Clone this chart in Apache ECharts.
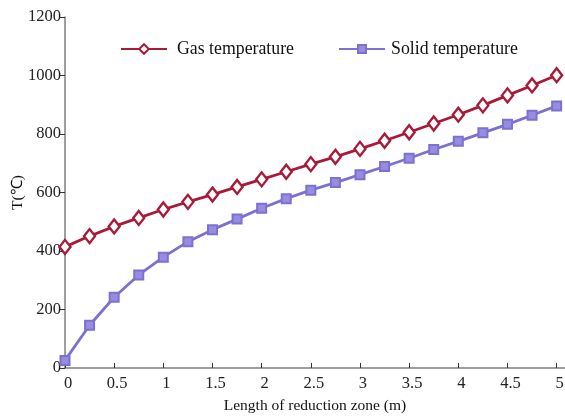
<!DOCTYPE html>
<html>
<head>
<meta charset="utf-8">
<script src="https://cdn.jsdelivr.net/npm/echarts@6/dist/echarts.min.js"></script>
<style>
  html, body { margin: 0; padding: 0; background: #fff; }
  #chart { width: 565px; height: 416px; }
</style>
</head>
<body>
<div id="chart"></div>
<script>
// Position along the reduction zone (m)
const lengths = [0, 0.25, 0.5, 0.75, 1, 1.25, 1.5, 1.75, 2, 2.25, 2.5,
                 2.75, 3, 3.25, 3.5, 3.75, 4, 4.25, 4.5, 4.75, 5];
// Gas temperature (°C)
const gasTemp = [414, 451, 484, 513, 542, 568, 593, 619, 645, 671, 697,
                 722, 749, 777, 806, 836, 866, 898, 932, 966, 1001];
// Solid temperature (°C)
const solidTemp = [26, 146, 242, 318, 379, 432, 473, 509, 546, 579, 608,
                   634, 661, 689, 717, 747, 775, 804, 833, 864, 896];
// Tick positions
const xTicks = [0, 0.5, 1, 1.5, 2, 2.5, 3, 3.5, 4, 4.5, 5];

const FONT = '"Liberation Serif", "Times New Roman", serif';
const GAS_COLOR = '#a81a3a';
const SOLID_COLOR = '#7d70d1';
const AXIS_COLOR = '#7f7f7f';

const legendText = pad => ({ fontFamily: FONT, fontSize: 17.8, color: '#111', padding: [0, 0, 0, pad] });

const chart = echarts.init(document.getElementById('chart'), null, { renderer: 'canvas' });

chart.setOption({
  animation: false,
  textStyle: { fontFamily: FONT },
  grid: { left: 65, right: 0, top: 17, bottom: 48, containLabel: false, outerBoundsMode: 'none' },
  legend: [
    {
      left: 115, top: 35, itemWidth: 46, itemHeight: 12,
      textStyle: legendText(5),
      data: ['Gas temperature']
    },
    {
      left: 333, top: 35, itemWidth: 46, itemHeight: 10,
      textStyle: legendText(1),
      data: ['Solid temperature']
    }
  ],
  xAxis: {
    type: 'value',
    min: 0,
    max: 5.085,
    name: 'Length of reduction zone (m)',
    nameLocation: 'middle',
    nameGap: 30,
    nameMoveOverlap: false,
    nameTextStyle: { fontFamily: FONT, fontSize: 15.5, color: '#111' },
    axisLine: { show: true, lineStyle: { color: AXIS_COLOR, width: 1.5 } },
    axisTick: { show: true, inside: true, length: 5, customValues: xTicks,
                lineStyle: { color: '#333', width: 1 } },
    axisLabel: { customValues: xTicks, fontFamily: FONT, fontSize: 16.5, color: '#222', margin: 7,
                 padding: [0, 0, 0, 6], formatter: v => String(v) },
    splitLine: { show: false }
  },
  yAxis: {
    type: 'value',
    min: 0,
    max: 1200,
    interval: 200,
    name: 'T(℃)',
    nameLocation: 'middle',
    nameRotate: 90,
    nameGap: 39,
    nameMoveOverlap: false,
    nameTextStyle: { fontFamily: FONT, fontSize: 15.5, color: '#111' },
    axisLine: { show: true, lineStyle: { color: AXIS_COLOR, width: 1.5 } },
    axisTick: { show: true, inside: false, length: 5, lineStyle: { color: '#333', width: 1 } },
    axisLabel: { fontFamily: FONT, fontSize: 16.5, color: '#222', margin: 4,
                 formatter: v => String(v) },
    splitLine: { show: false }
  },
  series: [
    {
      name: 'Gas temperature',
      type: 'line',
      data: lengths.map((x, i) => [x, gasTemp[i]]),
      symbol: 'diamond',
      symbolSize: [11, 14],
      showAllSymbol: true,
      lineStyle: { color: GAS_COLOR, width: 2.8 },
      itemStyle: { color: '#fff', borderColor: GAS_COLOR, borderWidth: 2.4 },
      z: 3
    },
    {
      name: 'Solid temperature',
      type: 'line',
      data: lengths.map((x, i) => [x, solidTemp[i]]),
      symbol: 'rect',
      symbolSize: 9,
      showAllSymbol: true,
      lineStyle: { color: SOLID_COLOR, width: 2.8 },
      itemStyle: { color: '#978de0', borderColor: SOLID_COLOR, borderWidth: 2 },
      z: 2
    }
  ]
});
</script>
</body>
</html>
